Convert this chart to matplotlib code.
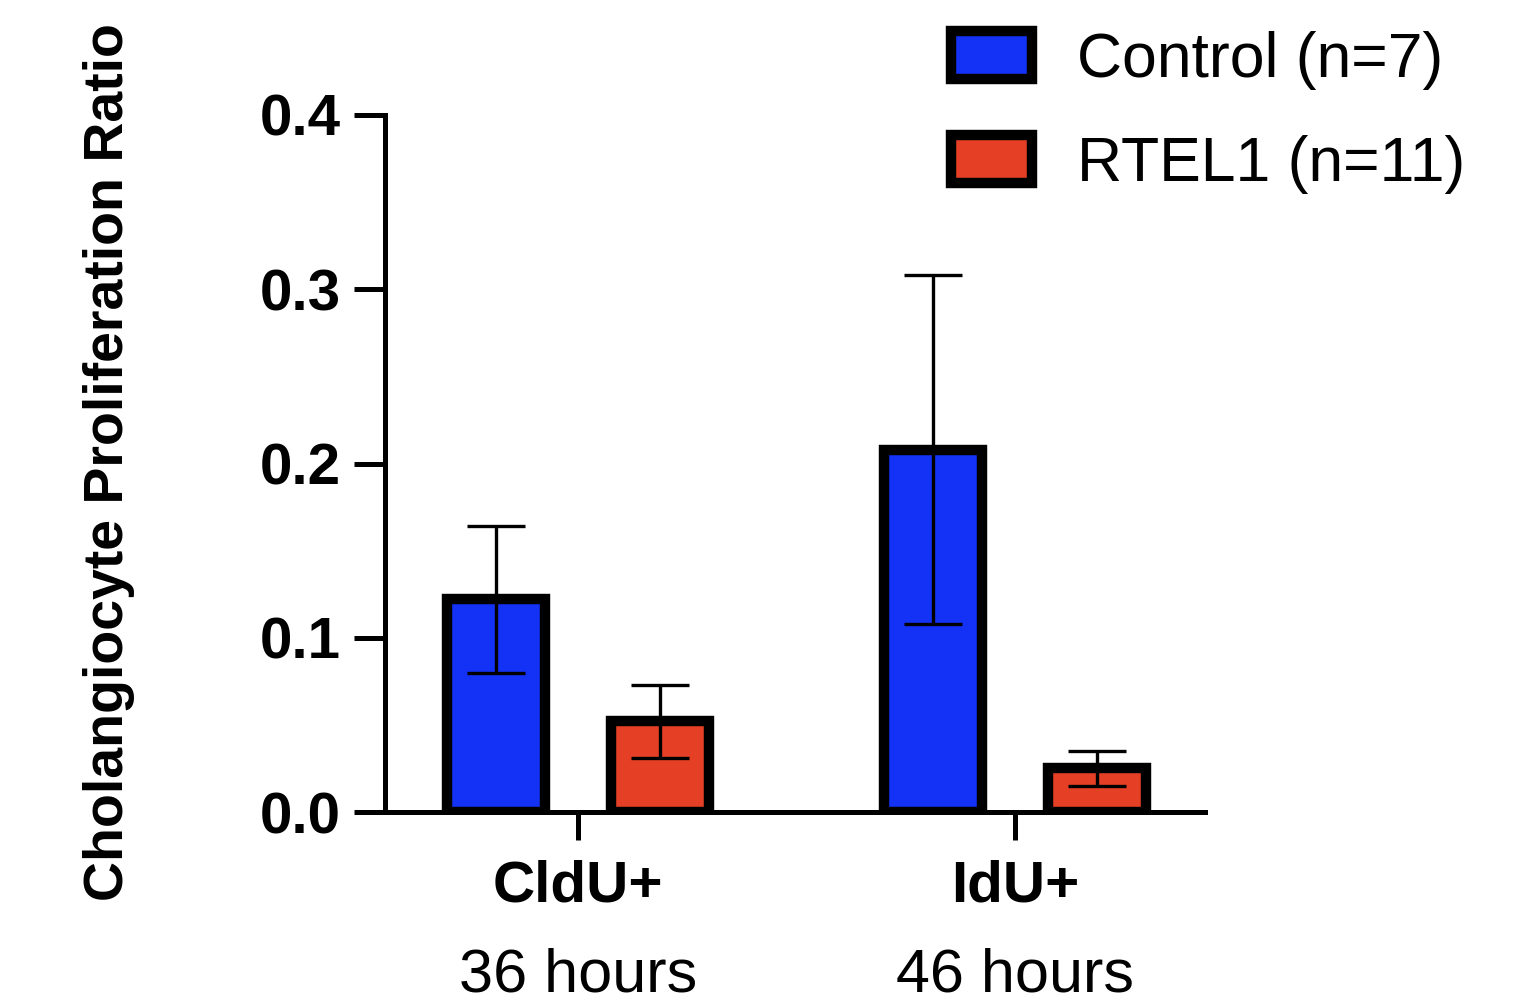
import matplotlib
matplotlib.use("Agg")
import matplotlib.pyplot as plt
import numpy as np
from matplotlib.patches import Patch

plt.rcParams['font.family'] = ['Liberation Sans', 'DejaVu Sans']

categories = ["CldU+", "IdU+"]
timepoints = ["36 hours", "46 hours"]
series_names = ["Control (n=7)", "RTEL1 (n=11)"]
control_mean = [0.122, 0.208]
control_err = [0.042, 0.100]
rtel1_mean = [0.052, 0.025]
rtel1_err = [0.021, 0.0098]
colors = ["#1432F5", "#E54025"]
yticks = [0.0, 0.1, 0.2, 0.3, 0.4]

fig = plt.figure(figsize=(15.37, 10.07), dpi=100)
ax = fig.add_axes([385/1537, 1-812/1007, (1205-385)/1537, (812-115)/1007])

x = np.arange(len(categories))
off = 0.188
w = 0.225
means = [control_mean, rtel1_mean]
errs = [control_err, rtel1_err]
for i, (m, e, c) in enumerate(zip(means, errs, colors)):
    xs = x + (-off if i == 0 else off)
    ax.bar(xs, m, width=w, color=c, edgecolor='black', linewidth=7.5, zorder=2)
    ax.errorbar(xs, m, yerr=e, fmt='none', ecolor='black', elinewidth=2.4,
                capsize=21, capthick=2.4, zorder=3)

ax.set_xlim(-0.442, 1.435)
ax.set_ylim(0, 0.4)
ax.set_yticks(yticks)
ax.set_yticklabels([f"{v:.1f}" for v in yticks], fontsize=42, fontweight='bold')
ax.set_xticks(x)
ax.set_xticklabels(categories, fontsize=42, fontweight='bold')
ax.tick_params(axis='y', length=22, width=3.6, pad=10)
ax.tick_params(axis='x', length=20, width=3.6, pad=14)
for s in ['top', 'right']:
    ax.spines[s].set_visible(False)
for s in ['left', 'bottom']:
    ax.spines[s].set_linewidth(3.6)
for xi, t in zip(x, timepoints):
    ax.text(xi, -0.236, t, transform=ax.get_xaxis_transform(), ha='center',
            va='center', fontsize=44)

ax.set_ylabel("Cholangiocyte Proliferation Ratio", fontsize=40, fontweight='bold')
ax.yaxis.set_label_coords(-0.305, 0.502, transform=ax.transAxes)

handles = [Patch(facecolor=c, edgecolor='black', linewidth=7.5) for c in colors]
leg = fig.legend(handles, series_names, loc='upper left',
                 bbox_to_anchor=(926/1537, 1-6/1007), frameon=False,
                 fontsize=45, handlelength=1.3, handleheight=0.8,
                 labelspacing=0.72, handletextpad=0.72, borderaxespad=0)

fig.savefig("out.png", dpi=100)
